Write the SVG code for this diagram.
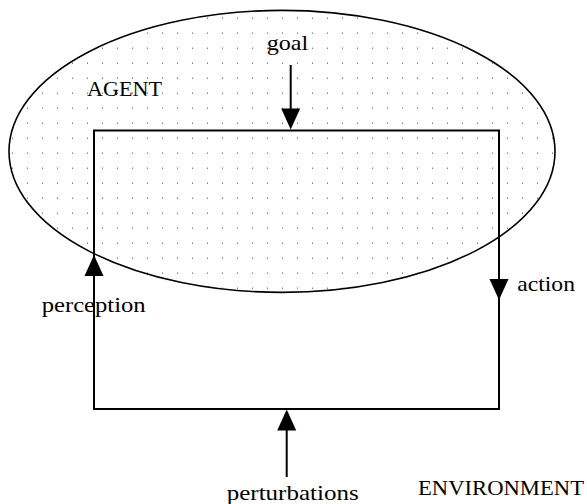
<svg xmlns="http://www.w3.org/2000/svg" width="587" height="504" viewBox="0 0 587 504">
  <style>
    .lbl { font-family: "Liberation Serif", "Times New Roman", serif; font-size: 22px; fill: #000; }
    .ln { stroke: #000; stroke-width: 2; fill: none; }
    .head { fill: #000; stroke: none; }
  </style>
  <defs>
    <pattern id="dots" patternUnits="userSpaceOnUse" x="0" y="0" width="15" height="15">
      <rect x="12" y="2.5" width="1" height="1.5" fill="#808080"/>
    </pattern>
    <path id="ah" d="M0,0 L-9.5,-21 L9.5,-21 Z"/>
  </defs>
  <rect width="587" height="504" fill="#fff"/>

  <g id="agent">
    <ellipse cx="282" cy="151.4" rx="273" ry="141" fill="url(#dots)" stroke="#000" stroke-width="1.6"/>
    <text class="lbl" x="87" y="96" textLength="75" lengthAdjust="spacingAndGlyphs">AGENT</text>
  </g>

  <g id="loop">
    <rect x="94" y="130.5" width="405" height="278.5" class="ln"/>
  </g>

  <g id="environment">
    <text class="lbl" x="418" y="494.5" textLength="166" lengthAdjust="spacingAndGlyphs">ENVIRONMENT</text>
  </g>

  <g id="connectors">
    <line class="ln" x1="290.7" y1="65" x2="290.7" y2="112"/>
    <use href="#ah" class="head" transform="translate(290.7,129.5)"/>
    <use href="#ah" class="head" transform="translate(94,255) rotate(180)"/>
    <use href="#ah" class="head" transform="translate(499,300)"/>
    <line class="ln" x1="286.7" y1="477" x2="286.7" y2="428"/>
    <use href="#ah" class="head" transform="translate(286.7,409.5) rotate(180)"/>
  </g>

  <g id="labels">
    <text class="lbl" x="266.7" y="50" textLength="41.6" lengthAdjust="spacingAndGlyphs">goal</text>
    <text class="lbl" x="41.7" y="312" textLength="104" lengthAdjust="spacingAndGlyphs">perception</text>
    <text class="lbl" x="517.3" y="290.5" textLength="57.7" lengthAdjust="spacingAndGlyphs">action</text>
    <text class="lbl" x="226.7" y="500" textLength="132" lengthAdjust="spacingAndGlyphs">perturbations</text>
  </g>
</svg>
